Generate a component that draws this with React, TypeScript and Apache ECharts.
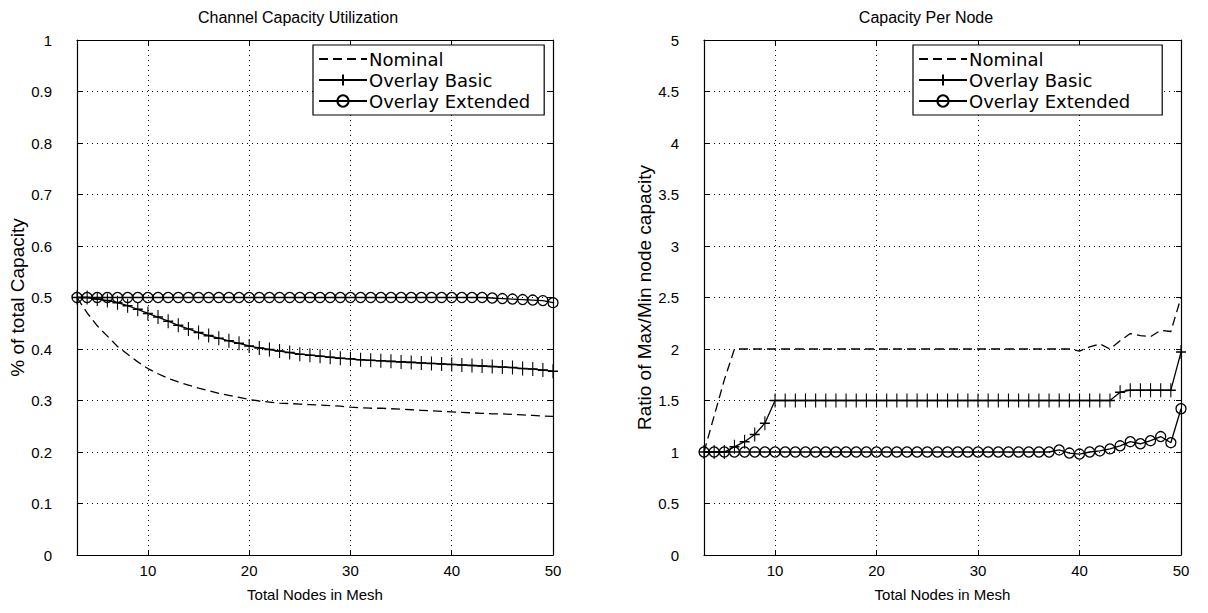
import React, { useEffect, useRef } from "react";
import * as echarts from "echarts";

const nodes = [3, 4, 5, 6, 7, 8, 9, 10, 11, 12, 13, 14, 15, 16, 17, 18, 19, 20, 21, 22, 23, 24, 25, 26, 27, 28, 29, 30, 31, 32, 33, 34, 35, 36, 37, 38, 39, 40, 41, 42, 43, 44, 45, 46, 47, 48, 49, 50];

const utilNominal = [
  0.500, 0.470, 0.445, 0.425, 0.405, 0.390, 0.375, 0.362, 0.352, 0.343,
  0.336, 0.330, 0.324, 0.319, 0.314, 0.310, 0.306, 0.302, 0.299, 0.297,
  0.295, 0.294, 0.293, 0.292, 0.291, 0.290, 0.289, 0.287, 0.286, 0.285,
  0.285, 0.284, 0.283, 0.282, 0.281, 0.280, 0.279, 0.278, 0.277, 0.276,
  0.275, 0.274, 0.274, 0.273, 0.272, 0.271, 0.270, 0.269,
];
const utilBasic = [
  0.500, 0.500, 0.497, 0.494, 0.490, 0.484, 0.477, 0.469, 0.462, 0.454,
  0.446, 0.439, 0.432, 0.426, 0.421, 0.416, 0.411, 0.406, 0.402, 0.399,
  0.396, 0.393, 0.390, 0.388, 0.386, 0.384, 0.382, 0.381, 0.379, 0.378,
  0.377, 0.376, 0.375, 0.374, 0.373, 0.372, 0.371, 0.370, 0.369, 0.368,
  0.367, 0.366, 0.365, 0.364, 0.362, 0.361, 0.359, 0.357,
];
const utilExtended = [
  0.5, 0.5, 0.5, 0.5, 0.5, 0.5, 0.5, 0.5, 0.5, 0.5,
  0.5, 0.5, 0.5, 0.5, 0.5, 0.5, 0.5, 0.5, 0.5, 0.5,
  0.5, 0.5, 0.5, 0.5, 0.5, 0.5, 0.5, 0.5, 0.5, 0.5,
  0.5, 0.5, 0.5, 0.5, 0.5, 0.5, 0.5, 0.5, 0.5, 0.5,
  0.5, 0.499, 0.498, 0.497, 0.496, 0.495, 0.494, 0.490,
];

const ratioNominal = [
  1.0, 1.35, 1.7, 2.0, 2.0, 2.0, 2.0, 2.0, 2.0, 2.0,
  2.0, 2.0, 2.0, 2.0, 2.0, 2.0, 2.0, 2.0, 2.0, 2.0,
  2.0, 2.0, 2.0, 2.0, 2.0, 2.0, 2.0, 2.0, 2.0, 2.0,
  2.0, 2.0, 2.0, 2.0, 2.0, 2.0, 2.0, 1.98, 2.02, 2.05,
  2.0, 2.08, 2.15, 2.13, 2.12, 2.18, 2.17, 2.5,
];
const ratioBasic = [
  1.0, 1.0, 1.0, 1.05, 1.1, 1.17, 1.28, 1.5, 1.5, 1.5,
  1.5, 1.5, 1.5, 1.5, 1.5, 1.5, 1.5, 1.5, 1.5, 1.5,
  1.5, 1.5, 1.5, 1.5, 1.5, 1.5, 1.5, 1.5, 1.5, 1.5,
  1.5, 1.5, 1.5, 1.5, 1.5, 1.5, 1.5, 1.5, 1.5, 1.5,
  1.5, 1.58, 1.6, 1.6, 1.6, 1.6, 1.6, 1.97,
];
const ratioExtended = [
  1.0, 1.0, 1.0, 1.0, 1.0, 1.0, 1.0, 1.0, 1.0, 1.0,
  1.0, 1.0, 1.0, 1.0, 1.0, 1.0, 1.0, 1.0, 1.0, 1.0,
  1.0, 1.0, 1.0, 1.0, 1.0, 1.0, 1.0, 1.0, 1.0, 1.0,
  1.0, 1.0, 1.0, 1.0, 1.0, 1.02, 0.99, 0.98, 1.0, 1.01,
  1.03, 1.06, 1.1, 1.08, 1.11, 1.15, 1.09, 1.42,
];

const xTickValues = [10, 20, 30, 40, 50];
const seriesNames = ["Nominal", "Overlay Basic", "Overlay Extended"];
const titles = ["Channel Capacity Utilization", "Capacity Per Node"];
const yNames = ["% of total Capacity", "Ratio of Max/Min node capacity"];
const xName = "Total Nodes in Mesh";

const FONT = "Liberation Sans";
const LEGEND_FONT = "DejaVu Sans";
const BLACK = "#000";
const PLUS = "path://M5,0L5,10M0,5L10,5";

function buildOption() {
  const grids = [
    { left: 77, top: 40, width: 476, height: 515 },
    { left: 704, top: 40, width: 477, height: 515 },
  ];
  const yRanges = [
    { max: 1, interval: 0.1 },
    { max: 5, interval: 0.5 },
  ];
  const xAxes: any[] = [];
  const yAxes: any[] = [];
  grids.forEach((_, i) => {
    xAxes.push({
      type: "value",
      gridIndex: i,
      min: 3,
      max: 50,
      position: "bottom",
      axisLine: { onZero: false, lineStyle: { color: BLACK, width: 1.2 } },
      axisTick: { inside: true, length: 5, customValues: xTickValues, lineStyle: { color: BLACK } },
      axisLabel: { customValues: xTickValues, color: BLACK, fontSize: 15, fontFamily: FONT, margin: 8 },
      splitLine: { show: true, lineStyle: { color: BLACK, width: 1, type: [1, 4] } },
      name: xName,
      nameLocation: "middle",
      nameGap: 32,
      nameTextStyle: { color: BLACK, fontSize: 15, fontFamily: FONT },
    });
    xAxes.push({
      type: "value",
      gridIndex: i,
      min: 3,
      max: 50,
      position: "top",
      axisLine: { onZero: false, lineStyle: { color: BLACK, width: 1.2 } },
      axisTick: { inside: true, length: 5, customValues: xTickValues, lineStyle: { color: BLACK } },
      axisLabel: { show: false },
      splitLine: { show: false },
    });
    yAxes.push({
      type: "value",
      gridIndex: i,
      min: 0,
      max: yRanges[i].max,
      interval: yRanges[i].interval,
      position: "left",
      axisLine: { show: true, onZero: false, lineStyle: { color: BLACK, width: 1.2 } },
      axisTick: { show: true, inside: true, length: 5, lineStyle: { color: BLACK } },
      axisLabel: { color: BLACK, fontSize: 15, fontFamily: FONT, margin: 25 },
      splitLine: { show: true, lineStyle: { color: BLACK, width: 1, type: [1, 4] } },
      name: yNames[i],
      nameLocation: "middle",
      nameGap: i === 0 ? 34 : 41,
      nameTextStyle: { color: BLACK, fontSize: 19, fontFamily: FONT },
    });
    yAxes.push({
      type: "value",
      gridIndex: i,
      min: 0,
      max: yRanges[i].max,
      interval: yRanges[i].interval,
      position: "right",
      axisLine: { show: true, onZero: false, lineStyle: { color: BLACK, width: 1.2 } },
      axisTick: { show: true, inside: true, length: 5, lineStyle: { color: BLACK } },
      axisLabel: { show: false },
      splitLine: { show: false },
    });
  });

  const dataSets = [
    [utilNominal, utilBasic, utilExtended],
    [ratioNominal, ratioBasic, ratioExtended],
  ];
  const series: any[] = [];
  dataSets.forEach((sets, i) => {
    sets.forEach((vals, k) => {
      const base: any = {
        type: "line",
        name: seriesNames[k],
        xAxisIndex: 2 * i,
        yAxisIndex: 2 * i,
        data: nodes.map((n, j) => [n, vals[j]]),
        silent: true,
        z: 3,
        lineStyle: { color: BLACK, width: 1.3, type: k === 0 ? [9, 5] : "solid" },
        itemStyle: { color: "transparent", borderColor: BLACK, borderWidth: 1.3 },
        emphasis: { disabled: true },
      };
      if (k === 0) {
        base.symbol = "none";
        base.itemStyle = { color: "transparent", borderColor: "transparent", borderWidth: 0 };
      } else if (k === 1) {
        base.symbol = PLUS;
        base.symbolSize = [10, 14];
        base.showAllSymbol = true;
      } else {
        base.symbol = "circle";
        base.symbolSize = 10;
        base.showAllSymbol = true;
      }
      series.push(base);
    });
  });

  const legendPos = [
    { left: 313, top: 45 },
    { left: 913, top: 45 },
  ];
  const legendPadRight = [14, 32];
  const legends = legendPos.map((p, i) => ({
    ...p,
    orient: "vertical",
    data: [
      { name: seriesNames[0], itemStyle: { color: "transparent", borderColor: "transparent", borderWidth: 0 } },
      { name: seriesNames[1] },
      { name: seriesNames[2] },
    ],
    backgroundColor: "#fff",
    borderColor: BLACK,
    borderWidth: 1.2,
    borderRadius: 0,
    padding: [4, legendPadRight[i], 4, 5],
    itemWidth: 48,
    itemHeight: 14,
    itemGap: 1,
    selectedMode: false,
    textStyle: { color: BLACK, fontSize: 18, fontFamily: LEGEND_FONT, padding: [0, 0, 0, -3], lineHeight: 20 },
  }));

  const titleX = [298, 926];
  return {
    animation: false,
    backgroundColor: "#fff",
    grid: grids,
    xAxis: xAxes,
    yAxis: yAxes,
    legend: legends,
    series,
    graphic: titles.map((t, i) => ({
      type: "text",
      x: titleX[i],
      y: 17,
      style: {
        text: t,
        textAlign: "center",
        textVerticalAlign: "middle",
        fill: BLACK,
        font: `16px "${FONT}"`,
      },
    })),
  };
}

export default function App() {
  const ref = useRef<HTMLDivElement>(null);
  useEffect(() => {
    document.body.style.margin = "0";
    const chart = echarts.init(ref.current!, null, { renderer: "svg" });
    chart.setOption(buildOption() as any);
    return () => chart.dispose();
  }, []);
  return <div ref={ref} style={{ width: 1208, height: 613 }} />;
}
